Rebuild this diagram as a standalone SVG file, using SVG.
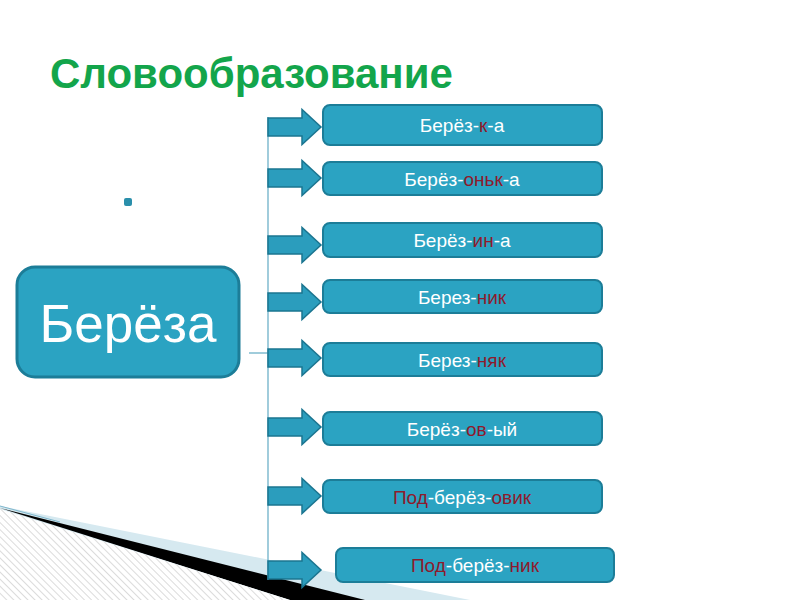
<svg xmlns="http://www.w3.org/2000/svg" width="800" height="600" viewBox="0 0 800 600">
<style>
.box{fill:#2ba3c2;stroke:#1c7d98;stroke-width:2}
.lbl{font-family:"Liberation Sans",Arial,sans-serif;font-size:19px;fill:#ffffff;text-anchor:middle}
.r{fill:#8e1a2c}
.arr{fill:#2b9dbd;stroke:#1b7590;stroke-width:1.5;stroke-linejoin:miter}
.ln{stroke:#62aac4;stroke-width:1.2;fill:none}
</style>
<defs>
<pattern id="hatch" width="5" height="5" patternUnits="userSpaceOnUse" patternTransform="rotate(-45)">
<rect width="5" height="5" fill="#ffffff"/>
<line x1="0" y1="0" x2="0" y2="5" stroke="#d2d2d2" stroke-width="1.6"/>
</pattern>
<path id="arrow" d="M0,-9 L34,-9 L34,-17.5 L53,0 L34,17.5 L34,9 L0,9 Z"/>
</defs>
<rect width="800" height="600" fill="#ffffff"/>
<g id="decor">
<polygon points="0,506 470,600 0,600" fill="#d6e9f0"/>
<polygon points="0,508 365,600 290,600" fill="#000000"/>
<polygon points="0,509 290,600 0,600" fill="url(#hatch)"/>
<line x1="0" y1="506" x2="60" y2="522" stroke="#7fb6cc" stroke-width="1"/>
</g>
<text x="50" y="88" font-family="Liberation Sans,Arial,sans-serif" font-size="42" font-weight="bold" fill="#13a54b">Словообразование</text>
<rect x="124" y="198" width="8" height="8" rx="2" fill="#2a8fab"/>
<g id="connectors">
<line class="ln" x1="268" y1="117" x2="268" y2="580"/>
<line class="ln" x1="249" y1="353" x2="268" y2="353"/>
<use href="#arrow" class="arr" x="268" y="127"/>
<use href="#arrow" class="arr" x="268" y="178"/>
<use href="#arrow" class="arr" x="268" y="245"/>
<use href="#arrow" class="arr" x="268" y="302"/>
<use href="#arrow" class="arr" x="268" y="358"/>
<use href="#arrow" class="arr" x="268" y="427"/>
<use href="#arrow" class="arr" x="268" y="496"/>
<use href="#arrow" class="arr" x="268" y="570"/>
</g>
<g id="root">
<rect x="17" y="267" width="222" height="110" rx="18" fill="#2ba3c2" stroke="#1c7d98" stroke-width="3"/>
<text x="128" y="342" font-family="Liberation Sans,Arial,sans-serif" font-size="53" fill="#ffffff" text-anchor="middle">Берёза</text>
</g>
<g id="n1"><rect class="box" x="323" y="105" width="279" height="40" rx="7"/><text class="lbl" x="462" y="132">Берёз-<tspan class="r">к</tspan>-а</text></g>
<g id="n2"><rect class="box" x="323" y="162" width="279" height="33" rx="7"/><text class="lbl" x="462" y="185.5">Берёз-<tspan class="r">оньк</tspan>-а</text></g>
<g id="n3"><rect class="box" x="323" y="223" width="279" height="34" rx="7"/><text class="lbl" x="462" y="247">Берёз-<tspan class="r">ин</tspan>-а</text></g>
<g id="n4"><rect class="box" x="323" y="280" width="279" height="33" rx="7"/><text class="lbl" x="462" y="303.5">Берез-<tspan class="r">ник</tspan></text></g>
<g id="n5"><rect class="box" x="323" y="343" width="279" height="33" rx="7"/><text class="lbl" x="462" y="366.5">Берез-<tspan class="r">няк</tspan></text></g>
<g id="n6"><rect class="box" x="323" y="412" width="279" height="33" rx="7"/><text class="lbl" x="462" y="435.5">Берёз-<tspan class="r">ов</tspan>-ый</text></g>
<g id="n7"><rect class="box" x="323" y="480" width="279" height="33" rx="7"/><text class="lbl" x="462" y="503.5"><tspan class="r">Под</tspan>-берёз-<tspan class="r">овик</tspan></text></g>
<g id="n8"><rect class="box" x="336" y="548" width="278" height="34" rx="7"/><text class="lbl" x="475" y="572"><tspan class="r">Под</tspan>-берёз-<tspan class="r">ник</tspan></text></g>
</svg>
